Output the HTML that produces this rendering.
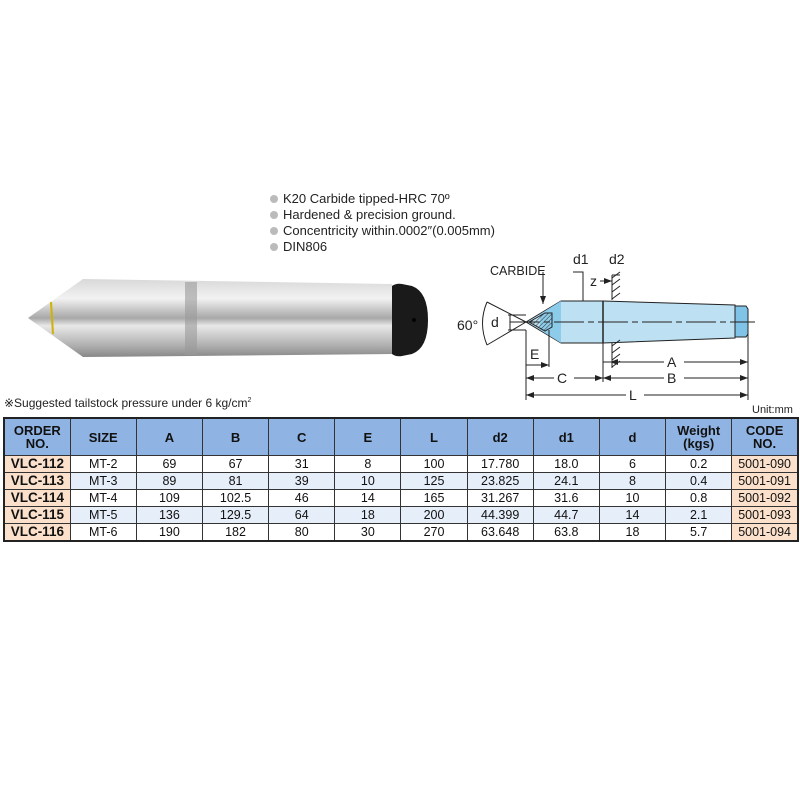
<!DOCTYPE html>
<html><head><meta charset="utf-8"><style>
body{margin:0;width:800px;height:800px;background:#fff;position:relative;font-family:"Liberation Sans",Arial,sans-serif;overflow:hidden}
.b{position:absolute;left:270px;font-size:13px;color:#222;line-height:16px}
.b span{display:inline-block;width:8px;height:8px;border-radius:50%;background:#bbb;margin-right:5px}
table{position:absolute;left:3px;top:417px;border-collapse:collapse;width:796px;table-layout:fixed;border:2px solid #222}
td,th{border:1px solid #333;text-align:center;padding:0;font-size:12.5px;color:#111;height:16px;line-height:14px}
th{background:#8fb3e2;height:36px;font-size:13px;font-weight:bold;line-height:13px}
td.o{background:#fbe1cb;font-weight:bold;font-size:13.5px}
td.c{background:#fbe1cb}
tr.a td{background:#e6eefa}
tr.a td.o,tr.a td.c{background:#fbe1cb}
</style></head><body>
<div class="b" style="top:191px"><span></span>K20 Carbide tipped-HRC 70º</div>
<div class="b" style="top:207px"><span></span>Hardened &amp; precision ground.</div>
<div class="b" style="top:223px"><span></span>Concentricity within.0002″(0.005mm)</div>
<div class="b" style="top:239px"><span></span>DIN806</div>

<svg style="position:absolute;left:0;top:0" width="800" height="800">
<defs>
<linearGradient id="g" x1="0" y1="0" x2="0" y2="1">
<stop offset="0" stop-color="#d8d8d8"/><stop offset="0.25" stop-color="#f2f2f2"/><stop offset="0.5" stop-color="#a8a8a8"/><stop offset="0.6" stop-color="#e8e8e8"/><stop offset="0.85" stop-color="#b0b0b0"/><stop offset="1" stop-color="#888"/></linearGradient>
<pattern id="h" width="3" height="3" patternUnits="userSpaceOnUse" patternTransform="rotate(45)"><line x1="0" y1="0" x2="0" y2="3" stroke="#333" stroke-width="1"/></pattern>
<marker id="ar" markerWidth="8" markerHeight="6" refX="8" refY="3" orient="auto"><path d="M0,0L8,3L0,6z" fill="#222"/></marker>
</defs>
<!-- photo -->
<path d="M28,318 L83,279 L392,284 L392,354 L83,357 Z" fill="url(#g)"/>
<path d="M51,302 L53,334" stroke="#d4b000" stroke-width="2"/>
<rect x="185" y="282" width="12" height="73" fill="#999" opacity="0.6"/>
<path d="M392,286 Q396,283 402,284 L412,286 Q428,292 428,320 Q428,348 412,354 L402,356 Q396,357 392,354 Z" fill="#1a1a1a"/>
<circle cx="414" cy="320" r="2" fill="#000"/>
<!-- diagram -->
<g stroke="#222" stroke-width="1" fill="none">
<path d="M526,322 L561,301 L603,301 L735,305 L735,338 L603,343 L561,343 Z" fill="#bde0f3"/>
<path d="M735,306 L746,306 L748,309 L748,334 L746,337 L735,337 Z" fill="#7fc3e6"/>
<path d="M540,314 L561,301 L561,343 L540,330 Z" fill="#8ccbe9" stroke="none"/>
<path d="M529,322 L545,313 L552,313 L552,327 L545,331 Z" fill="url(#h)"/>
<line x1="603" y1="301" x2="603" y2="343" stroke-width="1.5"/>
<line x1="510" y1="322" x2="755" y2="322" stroke-dasharray="30,4,6,4"/>
<line x1="526" y1="322" x2="487" y2="302"/><line x1="526" y1="322" x2="487" y2="345"/>
<path d="M487,302 Q478,323 487,345"/>
<path d="M508,315 L526,315 M508,330 L526,330 M510,315 L510,330"/>
<line x1="543" y1="272" x2="543" y2="304" marker-end="url(#ar)"/>
<path d="M573,272 L583,272 L583,301"/>
<line x1="612" y1="275" x2="612" y2="300"/><line x1="612" y1="343" x2="612" y2="368"/>
<path d="M612,278 L620,272 M612,285 L620,279 M612,292 L620,286 M612,299 L620,293 M612,346 L620,340 M612,353 L620,347 M612,360 L620,354 M612,367 L620,361" />
<line x1="612" y1="275" x2="620" y2="275"/>
<line x1="600" y1="281" x2="612" y2="281" marker-end="url(#ar)"/>
<line x1="526" y1="330" x2="526" y2="400"/><line x1="549" y1="330" x2="549" y2="367"/>
<line x1="748" y1="309" x2="748" y2="400"/><line x1="603" y1="343" x2="603" y2="382"/>
<line x1="526" y1="365" x2="549" y2="365" marker-end="url(#ar)"/>
<line x1="603" y1="362" x2="748" y2="362" marker-end="url(#ar)"/><line x1="748" y1="362" x2="610" y2="362" marker-end="url(#ar)"/>
<line x1="526" y1="378" x2="603" y2="378" marker-end="url(#ar)"/><line x1="603" y1="378" x2="526" y2="378" marker-end="url(#ar)"/>
<line x1="603" y1="378" x2="748" y2="378" marker-end="url(#ar)"/><line x1="748" y1="378" x2="603" y2="378" marker-end="url(#ar)"/>
<line x1="526" y1="395" x2="748" y2="395" marker-end="url(#ar)"/><line x1="748" y1="395" x2="526" y2="395" marker-end="url(#ar)"/>
</g>
<g font-size="14" fill="#222" font-family="Liberation Sans,sans-serif">
<rect x="664" y="354" width="20" height="16" fill="#fff"/><text x="667" y="367">A</text>
<rect x="664" y="370" width="20" height="16" fill="#fff"/><text x="667" y="383">B</text>
<rect x="554" y="370" width="20" height="16" fill="#fff"/><text x="557" y="383">C</text>
<rect x="626" y="387" width="18" height="16" fill="#fff"/><text x="629" y="400">L</text>
<text x="530" y="359">E</text>
<text x="491" y="327">d</text>
<text x="457" y="330">60°</text>
<text x="573" y="264">d1</text>
<text x="609" y="264">d2</text>
<text x="590" y="286">z</text>
<text x="490" y="275" font-size="12.5">CARBIDE</text>
</g>
</svg>

<div style="position:absolute;left:4px;top:396px;font-size:12px;color:#222">※Suggested tailstock pressure under 6 kg/cm<sup style="font-size:7px">2</sup></div>
<div style="position:absolute;left:752px;top:404px;font-size:11px;color:#222">Unit:mm</div>

<table>
<tr><th>ORDER<br>NO.</th><th>SIZE</th><th>A</th><th>B</th><th>C</th><th>E</th><th>L</th><th>d2</th><th>d1</th><th>d</th><th>Weight<br>(kgs)</th><th>CODE<br>NO.</th></tr>
<tr><td class="o">VLC-112</td><td>MT-2</td><td>69</td><td>67</td><td>31</td><td>8</td><td>100</td><td>17.780</td><td>18.0</td><td>6</td><td>0.2</td><td class="c">5001-090</td></tr>
<tr class="a"><td class="o">VLC-113</td><td>MT-3</td><td>89</td><td>81</td><td>39</td><td>10</td><td>125</td><td>23.825</td><td>24.1</td><td>8</td><td>0.4</td><td class="c">5001-091</td></tr>
<tr><td class="o">VLC-114</td><td>MT-4</td><td>109</td><td>102.5</td><td>46</td><td>14</td><td>165</td><td>31.267</td><td>31.6</td><td>10</td><td>0.8</td><td class="c">5001-092</td></tr>
<tr class="a"><td class="o">VLC-115</td><td>MT-5</td><td>136</td><td>129.5</td><td>64</td><td>18</td><td>200</td><td>44.399</td><td>44.7</td><td>14</td><td>2.1</td><td class="c">5001-093</td></tr>
<tr><td class="o">VLC-116</td><td>MT-6</td><td>190</td><td>182</td><td>80</td><td>30</td><td>270</td><td>63.648</td><td>63.8</td><td>18</td><td>5.7</td><td class="c">5001-094</td></tr>
</table>
</body></html>
